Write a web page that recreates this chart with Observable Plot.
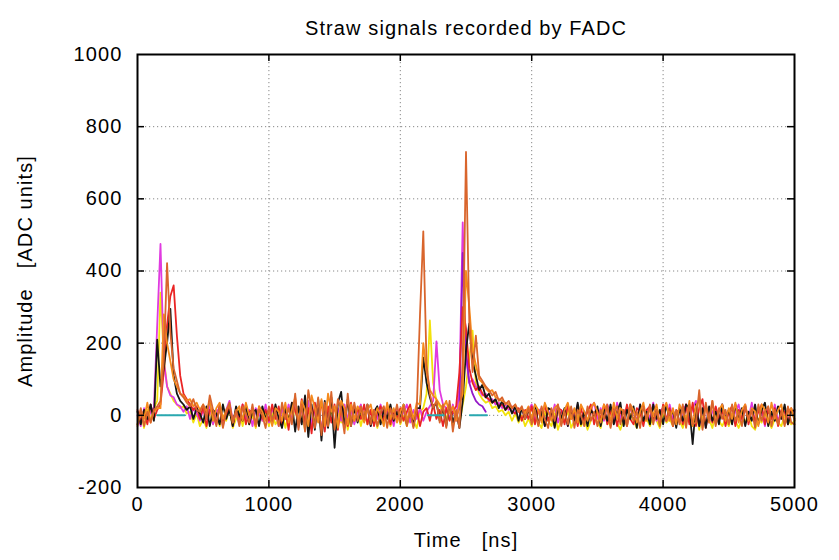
<!DOCTYPE html>
<html><head><meta charset="utf-8">
<script src="https://cdn.jsdelivr.net/npm/d3@7"></script>
<script src="https://cdn.jsdelivr.net/npm/@observablehq/plot@0.6"></script>
<style>body{margin:0;background:#fff} svg{white-space:pre}</style>
</head><body><div id="chart"></div>
<script>
const title = "Straw signals recorded by FADC";
const xLabel = "Time   [ns]";
const yLabel = "Amplitude   [ADC units]";
const xTicks = [0, 1000, 2000, 3000, 4000, 5000];
const yTicks = [-200, 0, 200, 400, 600, 800, 1000];
const sampleStep = 25; // ns between samples, first sample at t = 0

const brownValues = [
 -25, 20, -30, 10, -20, 15, 25, 40, 150, 422, 230, 130, 95, 60, 50, 35, 25, 45, 15, 10,
 30, -10, 55, 15, -30, 25, -35, 10, 35, -20, 15, -30, 25, 5, -20, 30, -25, 15, 0, -35,
 25, -15, 10, -30, 35, -10, 20, -25, 60, -40, 30, -45, 70, 15, -35, 50, -55, 35, -30, 65,
 -40, 45, 15, -50, 60, -30, 35, -15, 25, -10, 30, -25, 15, -30, 10, 25, -35, 20, -10, 30,
 -20, 25, -30, 10, -35, 15, 280, 510, 140, 60, 20, 40, -20, 30, -35, 40, -45, 15, -35, 150,
 730, 260, 120, 221, 110, 95, 80, 70, 55, 65, 40, 50, 30, 40, 20, 30, 10, 25, -10, 20,
 -25, 15, -30, 25, -10, -35, 20, -15, 30, -30, 10, -25, 25, -35, 15, 0, -30, 25, -15, 10,
 -30, 15, -10, 30, -35, 10, 25, -25, 15, -30, 30, -15, 10, -35, 25, -10, 30, -25, 15, -30,
 25, -15, 10, -30, 15, -25, 30, -35, 30, -25, -20, 70, -40, 35, -15, 40, -30, 20, -10, 15,
 -25, 30, -15, 10, -30, 25, -10, 15, -35, 30, -15, 10, 25, -30, 15, -25, 10, -30, 25, -20,
 -25];

const blackValues = [
 10, -25, 15, -10, 30, -15, 210, 80, 130, 200, 295, 110, 60, 40, 30, 15, 25, -10, 20, 5,
 -20, 25, -30, 15, 5, -25, 30, -10, 15, -30, 25, 0, -15, 30, -25, 10, 15, -30, 25, -10,
 15, -25, 30, -10, -35, 20, -15, 35, -45, 25, -25, 55, -60, 30, -40, 45, -70, 40, -35, 50,
 -90, 35, 65, -35, 45, -30, 20, -20, 15, -15, 30, -30, 10, 25, -25, 15, -10, 30, -15, 10,
 -10, 30, -25, 15, -30, 20, 20, 160, 90, 50, 20, 35, -15, 20, -30, 30, -20, 10, -35, 40,
 180, 255, 150, 110, 70, 85, 50, 60, 35, 45, 20, 40, 15, 30, 5, 25, -15, 20, -10, 15,
 -15, 30, -25, 10, -30, 20, 15, -35, 25, -10, 20, -30, 15, -15, 35, -25, 10, -30, 15, 0,
 25, -30, 15, -15, 30, -25, 10, 35, -30, 15, -10, 25, -35, 30, -15, 10, -25, 30, -10, 15,
 -25, 30, -10, 15, -35, 20, -15, 30, 20, -80, 30, -30, 20, -35, 25, -15, 10, -25, 30, -10,
 15, -25, 30, -10, 20, -30, 10, -15, 30, -25, 15, 35, -30, 10, -15, 25, -10, 30, -25, 10,
 15];

const magentaValues = [
 0, -30, 20, -15, 10, 20, 250, 475, 150, 80, 55, 50, 30, 25, 10, 25, -10, 20, 5, -15,
 15, -10, 30, -25, 10, 20, -30, 15, 40, -15, 10, -25, 30, -10, 15, -30, 20, 5, -15, 30,
 -20, 15, 10, -30, 20, -10, 30, -15, 35, -35, 20, -20, 40, -25, 15, 30, -40, 20, -10, 35,
 -30, 20, -15, 30, -10, 15, -25, 10, 30, -15, 20, -30, 15, -10, 30, -20, 10, 15, -30, 20,
 -15, 10, 30, -20, 15, -10, 20, -15, 10, 25, 40, 205, 70, 30, 20, -10, 30, -15, 80, 535,
 160, 90, 100, 80, 70, 55, 60, 40, 45, 30, 35, 20, 30, 15, 25, 5, 15, 20, -10, 15,
 30, -15, 10, 20, -30, 15, -10, 30, -20, 10, 15, -30, 20, -10, 30, -15, 10, -20, 15, 35,
 -10, 20, -15, 30, 10, -20, 35, -10, 15, -30, 20, 10, -15, 30, -20, 15, -10, 35, -15, 10,
 20, -15, 30, -10, 15, -20, 10, 30, -15, 20, 40, -30, 15, 25, -20, 10, 20, -15, 30, -10,
 15, -20, 10, 30, -15, 20, -10, 35, -20, 15, 10, -30, 20, -10, 30, -15, 10, 20, -20, 15,
 10];

const yellowValues = [
 -25, 10, -35, 15, -15, 20, 40, 340, 160, 80, 60, 40, 30, 20, 25, 5, 10, -20, 5, -30,
 -10, -35, 15, -25, 10, -30, 0, -15, 20, -35, -10, 15, -30, 10, -25, 0, -35, 15, -15, 10,
 -30, 10, -25, -10, 15, -35, 0, -15, 20, -30, 10, -40, 25, -20, -10, 30, -45, 15, -30, 20,
 -35, 15, -20, 10, -40, 0, -15, 15, -30, 10, -25, -10, 15, -35, 0, -15, 10, -30, -10, 15,
 -25, 0, -30, 15, -15, -35, 10, 20, 60, 263, 90, 40, 25, 10, -10, 20, -30, 10, -25, 30,
 80, 160, 235, 90, 60, 45, 35, 40, 20, 25, 10, 15, 0, 10, -15, 5, -20, 0, -30, -10,
 -30, 0, -20, -35, 10, -15, -30, 5, -40, -10, -20, 15, -35, -15, 0, -30, -10, -40, -15, 5,
 -20, -35, 10, -15, -30, 5, -20, -40, -10, -30, 5, -15, -35, 10, -20, -10, -30, 0, -15, -35,
 5, -20, -10, -30, 10, -15, -35, 0, -20, -30, 10, -40, 0, -20, -10, -35, 5, -15, -30, -10,
 -30, 5, -15, -35, -10, -20, 5, -30, -40, -10, -20, 5, -15, -35, -10, -20, -30, 0, -15, -25,
 -15];

const redValues = [
 15, -15, 10, -25, 30, -10, 15, 30, 120, 250, 330, 360, 220, 110, 60, 45, 30, 15, 25, -10,
 25, -30, 15, 10, -25, 30, -15, 0, 25, -30, 15, -10, 30, -25, 10, 15, -30, 25, -10, 15,
 -15, 30, -10, 25, -30, 15, -40, 35, 15, -20, 45, -25, 20, -50, 35, -15, 40, -45, 25, -20,
 30, -40, 25, 15, -30, 35, -15, 20, -10, 30, -25, 15, -30, 10, 25, -15, 30, -25, 15, -10,
 20, -15, 10, 30, -25, 15, -30, 10, 20, -15, 30, -10, 15, -30, 20, -15, 10, 25, 120, 300,
 240, 130, 90, 70, 80, 60, 50, 45, 35, 40, 25, 30, 15, 25, 10, 5, 20, -15, 15, -10,
 25, -25, 15, -10, 30, -15, 10, -30, 20, 15, -25, 30, -10, 15, -30, 20, -15, 10, 30, -25,
 15, -10, 30, -25, 10, 20, -30, 15, -15, 30, -10, -25, 20, 10, -30, 15, 25, -15, 10, -25,
 30, -15, 20, -30, 10, 15, -25, 30, -25, 35, -30, 20, 45, -35, 15, -20, 25, -10, 15, -30,
 10, 25, -30, 15, -10, 30, -25, 15, -15, 10, 30, -25, 15, -10, 20, -30, 15, 10, -25, 20,
 -10];

const orangeValues = [
 -30, 15, -10, 35, -20, 10, 20, 20, 280, 200, 150, 100, 80, 60, 55, 40, 45, 25, 35, 15,
 30, 10, 40, -15, 20, 35, -10, 15, 30, -20, 10, 25, -15, 35, 0, 15, -30, 25, 10, -15,
 15, -30, 20, 10, -15, 35, -20, 15, 50, -25, 40, 15, -30, 55, 20, -20, 45, -30, 60, 10,
 25, -35, 40, 20, -25, 30, -15, 25, 10, -20, 15, 30, -15, 20, 0, -30, 35, -10, 20, -20,
 10, 30, -15, 20, -10, 35, 30, 200, 120, 70, 55, 45, 30, 20, 40, 5, 25, -15, 30, 60,
 400, 300, 180, 140, 100, 90, 75, 65, 70, 50, 45, 40, 35, 30, 20, 30, 10, 20, 5, 25,
 -10, 30, 15, -20, 35, 10, -15, 20, 30, -25, 15, 35, -10, 20, -20, 30, 10, -15, 20, 35,
 10, -20, 30, 15, -15, 35, -10, 20, 10, -25, 30, 15, -20, 10, 35, -15, 20, 0, 30, -20,
 15, 35, -15, 20, -25, 30, 10, -20, 40, -30, 25, 45, -35, 30, -20, 40, -25, 15, 30, -15,
 20, -10, 35, -20, 15, 30, -15, 20, 10, -30, 30, 15, -20, 35, -10, 15, 30, -25, 10, 20,
 -15];

const purpleTimes = [2375, 2400, 2425, 2450, 2475, 2500, 2525, 2550, 2575, 2600, 2625, 2650];
const purpleValues = [-10, 10, -5, 20, 450, 180, 90, 60, 40, 30, 25, 10];

const tealTimes = [150, 360, 2210, 2330, 2530, 2660];
const tealValues = [0, 0, 0, 0, 0, 0];
const tealSegment = [1, 1, 2, 2, 3, 3];

const seriesDefs = [
  {name: "yellow", color: "#f2e20c", values: yellowValues},
  {name: "magenta", color: "#e03ae0", values: magentaValues},
  {name: "red", color: "#ea2424", values: redValues},
  {name: "black", color: "#151515", values: blackValues},
  {name: "orange", color: "#f58a1c", values: orangeValues},
  {name: "brown", color: "#d9652c", values: brownValues}
];

const rows = s => s.values.map((v, i) => ({t: i * sampleStep, v}));
const purpleRows = purpleTimes.map((t, i) => ({t, v: purpleValues[i]}));
const tealRows = tealTimes.map((t, i) => ({t, v: tealValues[i], seg: tealSegment[i]}));

const plotW = 839 - 137 - 45, plotH = 560 - 54 - 73;
const tickLen = 7;
const innerX = xTicks.slice(1, -1), innerY = yTicks.slice(1, -1);
const lw = 1.8;
const fmt = d => String(d);

const marks = [
  Plot.gridX(innerX, {stroke: "#888", strokeOpacity: 1, strokeDasharray: "1.2,2.8"}),
  Plot.gridY(innerY, {stroke: "#888", strokeOpacity: 1, strokeDasharray: "1.2,2.8"}),
  Plot.line(rows(seriesDefs[0]), {x: "t", y: "v", stroke: seriesDefs[0].color, strokeWidth: lw}),
  Plot.line(rows(seriesDefs[1]), {x: "t", y: "v", stroke: seriesDefs[1].color, strokeWidth: lw}),
  Plot.line(purpleRows, {x: "t", y: "v", stroke: "#9418c8", strokeWidth: lw}),
  Plot.line(rows(seriesDefs[2]), {x: "t", y: "v", stroke: seriesDefs[2].color, strokeWidth: lw}),
  Plot.line(rows(seriesDefs[3]), {x: "t", y: "v", stroke: seriesDefs[3].color, strokeWidth: lw}),
  Plot.line(rows(seriesDefs[4]), {x: "t", y: "v", stroke: seriesDefs[4].color, strokeWidth: lw}),
  Plot.line(rows(seriesDefs[5]), {x: "t", y: "v", stroke: seriesDefs[5].color, strokeWidth: lw}),
  Plot.line(tealRows, {x: "t", y: "v", z: "seg", stroke: "#2aa8b0", strokeWidth: 2}),
  Plot.ruleX(innerX, {x: d => d, insetTop: plotH - tickLen, stroke: "#000", strokeWidth: 1.5}),
  Plot.ruleX(innerX, {x: d => d, insetBottom: plotH - tickLen, stroke: "#000", strokeWidth: 1.5}),
  Plot.ruleY(innerY, {y: d => d, insetRight: plotW - tickLen, stroke: "#000", strokeWidth: 1.5}),
  Plot.ruleY(innerY, {y: d => d, insetLeft: plotW - tickLen, stroke: "#000", strokeWidth: 1.5}),
  Plot.frame({stroke: "#000", strokeWidth: 2}),
  Plot.axisX(xTicks, {tickSize: 0, tickPadding: 9, fontSize: 20, tickFormat: fmt, label: null}),
  Plot.axisY(yTicks, {tickSize: 0, tickPadding: 15, fontSize: 20, tickFormat: fmt, label: null}),
  Plot.text([title], {frameAnchor: "top", dy: -34, fontSize: 20, textAnchor: "middle"}),
  Plot.text([xLabel], {frameAnchor: "bottom", dy: 59, fontSize: 20, textAnchor: "middle"}),
  Plot.text([yLabel], {frameAnchor: "left", dx: -112, rotate: -90, fontSize: 20, textAnchor: "middle"})
];

const chart = Plot.plot({
  width: 839, height: 560,
  marginLeft: 137, marginRight: 45, marginTop: 54, marginBottom: 73,
  x: {domain: [0, 5000]},
  y: {domain: [-200, 1000]},
  style: {fontFamily: "'Liberation Sans', Arial, sans-serif", color: "#000", background: "#fff", letterSpacing: "1.1px"},
  marks
});
document.getElementById("chart").appendChild(chart);
</script></body></html>
